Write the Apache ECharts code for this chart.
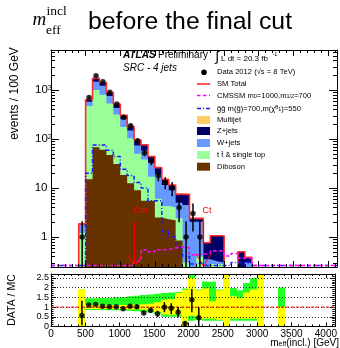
<!DOCTYPE html>
<html>
<head>
<meta charset="utf-8">
<script src="https://cdn.jsdelivr.net/npm/echarts@6.0.0/dist/echarts.min.js"></script>
<style>
html,body{margin:0;padding:0;background:#ffffff;}
#chart{width:340px;height:348px;}
</style>
</head>
<body>
<div id="chart"></div>
<script>
// ---------------- data ----------------
const BIN_WIDTH = 100; // GeV
const binLo = [400,500,600,700,800,900,1000,1100,1200,1300,1400,1500,1600,1700,1800,1900,2000,2100,2200,2300,2400,2500,2600,2700,2800,2900,3000,3100,3200,3300];

// background components (events / 100 GeV), stack order bottom -> top
const dibosonVals  = [0,15,68,60,47,31,18.5,12.5,9,5.5,5.5,2.5,2.3,2.2,0.85,0,0,0,0,0,0,0,0,0,0,0,0,0,0,0];
const ttbarVals    = [1.2,455,932,740,483,284,156.5,91.5,41,32.5,11.5,3.5,2,1.8,1.55,0.3,0.2,0.4,0.1,0.28,0.28,0,0,0,0,0,0,0,0,0];
const wjetsVals    = [0.6,105,480,420,227,115,77,45,24,20,16,13,7.2,5,2.6,4.2,1.85,1.65,0.25,0.04,0.02,0,0,0.1,0.3,0,0,0,0,0];
const zjetsVals    = [0.05,65,255,203,134,85,52,31,21,18,11,7,3.5,2.5,2.5,2.9,0.35,0.35,0.41,0.74,0.76,0.1,0.1,0.4,0.085,0.1,0.05,0,0,0.1];
const multijetVals = [0,0,0,0,0,0,0,0,0,0,0,0,0,0,0,0,0,0,0,0,0,0,0,0,0,0,0,0,0,0];

// signal points
const cmssmVals = [0,0,0,0,0,0,0,0.26,0.32,0.55,0.5,0.55,0.55,0.6,0.62,0.6,0.43,0.45,0.46,0.52,0.52,0.41,0.46,0.37,0.37,0,0,0,0,0];
const ggVals    = [0,20,75,75,59,44,24,18,13,10,5.5,5.5,1.3,1.0,0.6,0.4,0.28,0.3,0,0,0,0,0.3,0.3,0.3,0,0,0,0,0];

// data 2012 (first 18 bins)
const dataVals    = [1,700,1960,1480,900,520,277,187,92,52,35,18,13,10,4,1,3,1];
const dataErrUp   = [1.1,26,44,38,30,23,17,14,10,7.2,6,4.3,3.6,3.2,2,1.1,1.8,1.1];
const dataErrDown = [1,26,44,38,30,23,17,14,10,7.2,6,4.3,3.6,3.2,2,1,1.7,1];

// DATA / MC
const ratioVals     = [0.56,1.11,1.13,1.04,1.01,1.01,0.91,1.04,1.01,0.70,0.84,0.65,0.99,0.94,0.73,0.15,1.37,0.45];
const ratioErrUp    = [0.77,0.04,0.03,0.03,0.04,0.05,0.06,0.08,0.11,0.1,0.14,0.16,0.26,0.26,0.27,0.12,0.56,0.54];
const ratioErrDown  = [0.5,0.04,0.03,0.03,0.04,0.05,0.06,0.08,0.11,0.1,0.14,0.16,0.26,0.3,0.25,0.12,0.64,0.45];

// MC uncertainty bands in the ratio panel (null = no band)
const greenLo  = [0,0.85,0.85,0.85,0.84,0.83,0.82,0.80,0.78,0.75,0.72,0.65,0.50,0.50,0.50,0,0.30,0.35,0.30,0.30,0.30,0,0.30,0.30,0.30,0.30,0,null,null,0];
const greenHi  = [1.9,1.45,1.45,1.46,1.47,1.50,1.52,1.55,1.58,1.62,1.65,1.68,1.72,1.75,1.77,1.95,2.75,1.90,2.32,2.30,1.90,2.7,1.98,1.87,2.24,2.50,2.7,null,null,2.0];
const yellowLo = [0,0.9,0.9,0.9,0.9,0.9,0.89,0.88,0.87,0.86,0.84,0.75,0.62,0.60,0.60,0,0.55,0.40,0.40,0.40,0.35,0,0.40,0.40,0.40,0.40,0,null,null,0];
const yellowHi = [1.9,1.1,1.1,1.1,1.1,1.1,1.11,1.12,1.13,1.15,1.17,1.25,1.38,1.40,1.72,1.89,2.50,1.87,1.95,1.30,1.87,2.7,1.55,1.45,1.75,1.90,2.7,null,null,1.0];

// cut arrows
const cutValues = [1200, 2200];
const cutLabels = ['Cm', 'Ct'];

// tick labels
const mainYTickValues = [1, 10, 100, 1000];
const mainYTickLabels = ['{p|1}', '{p|10}', '{n|10}{s|2}', '{n|10}{s|3}'];
const logMinorTicks = [0.3,0.4,0.5,0.6,0.7,0.8,0.9,2,3,4,5,6,7,8,9,20,30,40,50,60,70,80,90,200,300,400,500,600,700,800,900,2000,3000,4000,5000,6000];

// ---------------- layout / style ----------------
const X_MIN = 0, X_MAX = 4130;
const Y_MIN = 0.244, Y_MAX = 6550;
const R_MAX = 2.7;
const GRID_LEFT = 51, GRID_RIGHT = 3;
const MAIN_TOP = 50, MAIN_H = 217;
const RATIO_TOP = 274, RATIO_H = 52.5;
const FONT = '"Liberation Sans", Arial, Helvetica, sans-serif';
const SERIF = '"Liberation Serif", "Times New Roman", serif';
const COL = {multijet:'#ffcc66', zjets:'#000066', wjets:'#6699ff', ttbar:'#99ff99', diboson:'#663300',
  sm:'#ff2a2a', cmssm:'#ff00ff', gg:'#1a1aff', green:'#22ff22', yellow:'#ffff00'};
const FILL_FLOOR = Y_MIN * 0.5;
const RED_FLOOR = Y_MIN * 0.9;
const SIG_FLOOR = 0.262;
const CUT_ARROW_TOP = 2.05, CUT_LABEL_VAL = 3.4;

function addArr(a, b) { return a.map((v, i) => v + b[i]); }
const cumD = dibosonVals.slice();
const cumT = addArr(cumD, ttbarVals);
const cumW = addArr(cumT, wjetsVals);
const cumZ = addArr(cumW, zjetsVals);
const smTotal = addArr(cumZ, multijetVals);

function stepData(vals, floor, fullRange) {
  const pts = [];
  if (fullRange) pts.push([X_MIN, floor]);
  pts.push([binLo[0], floor]);
  for (let i = 0; i < vals.length; i++) pts.push([binLo[i], Math.max(vals[i], floor)]);
  const hi = binLo[binLo.length - 1] + BIN_WIDTH;
  pts.push([hi, floor]);
  if (fullRange) pts.push([X_MAX, floor]);
  return pts;
}

const series = [];
// stacked fills (drawn largest first)
[
  {comp: multijetVals, cum: smTotal, color: COL.multijet},
  {comp: zjetsVals, cum: cumZ, color: COL.zjets},
  {comp: wjetsVals, cum: cumW, color: COL.wjets},
  {comp: ttbarVals, cum: cumT, color: COL.ttbar},
  {comp: dibosonVals, cum: cumD, color: COL.diboson}
].forEach(l => {
  if (!l.comp.some(v => v > 0)) return;
  series.push({type:'line', xAxisIndex:0, yAxisIndex:0, step:'end', symbol:'none', silent:true,
    data: stepData(l.cum, FILL_FLOOR, false), lineStyle:{width:0, color:l.color},
    areaStyle:{color:l.color, opacity:1, origin:'start'}, z:2, clip:true});
});
// SM total outline
series.push({type:'line', xAxisIndex:0, yAxisIndex:0, step:'end', symbol:'none', silent:true,
  data: stepData(smTotal, RED_FLOOR, false), lineStyle:{width:1.6, color:COL.sm}, z:2, clip:true});
// signals
series.push({type:'line', xAxisIndex:0, yAxisIndex:0, step:'end', symbol:'none', silent:true,
  data: stepData(ggVals, SIG_FLOOR, true), lineStyle:{width:1.5, color:COL.gg, type:[4,2,1,2]}, z:2, clip:true});
series.push({type:'line', xAxisIndex:0, yAxisIndex:0, step:'end', symbol:'none', silent:true,
  data: stepData(cmssmVals, SIG_FLOOR, true), lineStyle:{width:1.6, color:COL.cmssm, type:[3.5,2.5]}, z:2, clip:true});

// cut arrows
series.push({type:'custom', xAxisIndex:0, yAxisIndex:0, silent:true, z:3, clip:false,
  data: cutValues.map((v, i) => [v, CUT_ARROW_TOP, i]), encode:{x:0, y:1},
  renderItem: function (params, api) {
    const x = api.value(0), idx = api.value(2);
    const top = api.coord([x, CUT_ARROW_TOP]);
    const lab = api.coord([x, CUT_LABEL_VAL]);
    const cs = params.coordSys;
    const yb = cs.y + cs.height - 0.5;
    const xx = Math.round(top[0]) + 0.5;
    const st = {stroke:'#ff0000', lineWidth:1};
    return {type:'group', children:[
      {type:'line', shape:{x1:xx, y1:top[1], x2:xx, y2:yb}, style:st},
      {type:'line', shape:{x1:xx-7.5, y1:yb-13, x2:xx, y2:yb}, style:st},
      {type:'line', shape:{x1:xx, y1:yb, x2:xx+7.5, y2:yb-13}, style:st},
      {type:'text', x: xx-1, y: lab[1], style:{text: cutLabels[idx], fill:'#ff0000', fontSize:9, fontFamily:FONT, verticalAlign:'middle', align:'left'}}
    ]};
  }});

// data error bars and points
const dataCenters = dataVals.map((v, i) => binLo[i] + BIN_WIDTH / 2);
series.push({type:'custom', xAxisIndex:0, yAxisIndex:0, silent:true, z:4, clip:true,
  data: dataVals.map((v, i) => [dataCenters[i], Math.max(v - dataErrDown[i], FILL_FLOOR), v + dataErrUp[i]]),
  encode:{x:0, y:[1,2]},
  renderItem: function (params, api) {
    const p1 = api.coord([api.value(0), api.value(2)]);
    const p2 = api.coord([api.value(0), api.value(1)]);
    return {type:'line', shape:{x1:p1[0], y1:p1[1], x2:p2[0], y2:p2[1]}, style:{stroke:'#000', lineWidth:1.5}};
  }});
series.push({type:'scatter', xAxisIndex:0, yAxisIndex:0, silent:true, z:5, symbol:'circle', symbolSize:5.5,
  itemStyle:{color:'#000'}, data: dataVals.map((v, i) => [dataCenters[i], v])});

// log minor ticks (left and right)
series.push({type:'custom', xAxisIndex:0, yAxisIndex:0, silent:true, z:6, clip:false,
  data: logMinorTicks.map(v => [X_MIN, v]), encode:{x:0, y:1},
  renderItem: function (params, api) {
    const p = api.coord([X_MIN, api.value(1)]);
    const cs = params.coordSys;
    const y = Math.round(p[1]) + 0.5;
    return {type:'group', children:[
      {type:'line', shape:{x1:cs.x, y1:y, x2:cs.x+4, y2:y}, style:{stroke:'#000', lineWidth:1}},
      {type:'line', shape:{x1:cs.x+cs.width, y1:y, x2:cs.x+cs.width-4, y2:y}, style:{stroke:'#000', lineWidth:1}}
    ]};
  }});

// ratio bands
function bandSeries(lo, hi, color, z) {
  const d = [];
  for (let i = 0; i < binLo.length; i++) {
    if (lo[i] == null || hi[i] == null) continue;
    d.push([binLo[i], binLo[i] + BIN_WIDTH, lo[i], hi[i]]);
  }
  return {type:'custom', xAxisIndex:2, yAxisIndex:2, silent:true, z:z, clip:true, data:d,
    encode:{x:[0,1], y:[2,3]},
    renderItem: function (params, api) {
      const p1 = api.coord([api.value(0), api.value(2)]);
      const p2 = api.coord([api.value(1), api.value(3)]);
      const cs = params.coordSys;
      const x1 = Math.round(p1[0]), x2 = Math.round(p2[0]);
      const yt = Math.max(p2[1], cs.y), yb = Math.min(p1[1], cs.y + cs.height);
      return {type:'rect', shape:{x:x1, y:yt, width:x2 - x1, height:yb - yt}, style:{fill:color}};
    }};
}
series.push(bandSeries(greenLo, greenHi, COL.green, 2));
series.push(bandSeries(yellowLo, yellowHi, COL.yellow, 2));
series.push({type:'line', xAxisIndex:2, yAxisIndex:2, silent:true, symbol:'none', z:4,
  data:[[X_MIN, 1], [X_MAX, 1]], lineStyle:{color:'#ff0000', width:1, type:[3,2]}});
series.push({type:'custom', xAxisIndex:2, yAxisIndex:2, silent:true, z:5, clip:true,
  data: ratioVals.map((v, i) => [dataCenters[i], Math.max(v - ratioErrDown[i], 0), v + ratioErrUp[i]]),
  encode:{x:0, y:[1,2]},
  renderItem: function (params, api) {
    const p1 = api.coord([api.value(0), api.value(2)]);
    const p2 = api.coord([api.value(0), api.value(1)]);
    return {type:'line', shape:{x1:p1[0], y1:p1[1], x2:p2[0], y2:p2[1]}, style:{stroke:'#000', lineWidth:1.5}};
  }});
series.push({type:'scatter', xAxisIndex:2, yAxisIndex:2, silent:true, z:6, symbol:'circle', symbolSize:5.5,
  itemStyle:{color:'#000'}, data: ratioVals.map((v, i) => [dataCenters[i], v])});

// ---------------- axes ----------------
function xAx(grid, pos, showLabels, tickLen, minorLen) {
  return {type:'value', gridIndex:grid, position:pos, min:X_MIN, max:X_MAX, interval:500, z:3,
    axisLine:{show:true, onZero:false, lineStyle:{color:'#000', width:1}},
    axisTick:{show:true, inside:true, length:tickLen, lineStyle:{color:'#000', width:1}},
    minorTick:{show:true, splitNumber:5, length:minorLen, lineStyle:{color:'#000', width:1}},
    splitLine:{show:false},
    axisLabel:{show:showLabels, fontSize:10, color:'#000', fontFamily:FONT, margin:3, showMaxLabel:false,
      formatter: function (v) { return String(v); }}};
}
function yLog(pos, showLabels) {
  return {type:'log', logBase:10, gridIndex:0, position:pos, min:Y_MIN, max:Y_MAX, z:3,
    axisLine:{show:true, onZero:false, lineStyle:{color:'#000', width:1}},
    axisTick:{show:true, inside:true, length:8, lineStyle:{color:'#000', width:1}},
    minorTick:{show:false}, splitLine:{show:false},
    axisLabel:{show:showLabels, color:'#000', margin:-1, fontFamily:FONT, fontSize:11.5,
      formatter: function (v) {
        for (let i = 0; i < mainYTickValues.length; i++) {
          if (Math.abs(v - mainYTickValues[i]) < 1e-6 * mainYTickValues[i]) return mainYTickLabels[i];
        }
        return '';
      },
      rich:{n:{fontSize:11.5, fontFamily:FONT, color:'#000'},
            p:{fontSize:11.5, fontFamily:FONT, color:'#000', padding:[0,4.5,0,0]},
            s:{fontSize:7.5, fontFamily:FONT, color:'#000', verticalAlign:'top'}}}};
}
function yRatio(pos, showLabels) {
  return {type:'value', gridIndex:1, position:pos, min:0, max:R_MAX, interval:0.5, z:3,
    axisLine:{show:true, onZero:false, lineStyle:{color:'#000', width:1}},
    axisTick:{show:true, inside:true, length:5, lineStyle:{color:'#000', width:1}},
    minorTick:{show:true, splitNumber:5, length:2.5, lineStyle:{color:'#000', width:1}},
    splitLine:{show:showLabels, lineStyle:{color:'#000', width:0.8, type:[1,2]}},
    axisLabel:{show:showLabels, fontSize:9, color:'#000', fontFamily:FONT, margin:2, showMaxLabel:false,
      formatter: function (v) { return String(v); }}};
}

// ---------------- legend / text ----------------
const LX = 197, LW = 13, TX = 217, LFS = 7.6;
const graphic = [];
function txt(x, y, text, extra) {
  graphic.push({type:'text', x:x, y:y, silent:true, z:10,
    style:Object.assign({text:text, fill:'#000', fontSize:LFS, fontFamily:FONT, verticalAlign:'middle', align:'left'}, extra || {})});
}
// title
txt(32.5, 19.5, 'm', {fontSize:19, fontFamily:SERIF, fontStyle:'italic'});
txt(46.5, 11, 'incl', {fontSize:13.5, fontFamily:SERIF});
txt(46, 30.5, 'eff', {fontSize:13.5, fontFamily:SERIF});
txt(88, 22.5, 'before the final cut', {fontSize:24.8});
// axis titles
graphic.push({type:'text', x:15, y:93.5, rotation:Math.PI/2, silent:true, z:10,
  style:{text:'events / 100 GeV', fill:'#000', fontSize:12, fontFamily:FONT, align:'center', verticalAlign:'middle'}});
graphic.push({type:'text', x:12.5, y:300, rotation:Math.PI/2, silent:true, z:10,
  style:{text:'DATA / MC', fill:'#000', fontSize:10.5, fontFamily:FONT, align:'center', verticalAlign:'middle'}});
graphic.push({type:'text', x:339, y:343, silent:true, z:10,
  style:{text:'{t|m}{b|eff}{t|(incl.) [GeV]}', align:'right', verticalAlign:'middle', fill:'#000',
    rich:{t:{fontSize:10, fontFamily:FONT, fill:'#000'}, b:{fontSize:7, fontFamily:FONT, fill:'#000', verticalAlign:'bottom'}}}});
// ATLAS label
txt(123, 55, 'ATLAS', {fontSize:10, fontWeight:'bold', fontStyle:'italic'});
txt(158, 55, 'Preliminary', {fontSize:10});
txt(123, 68, 'SRC - 4 jets', {fontSize:10, fontStyle:'italic'});
txt(215.5, 57.5, '\u222B', {fontSize:14});
txt(221, 58.3, 'L dt = 20.3 fb', {fontSize:8});
txt(272.5, 54, '-1', {fontSize:5.5});
// legend rows
graphic.push({type:'circle', shape:{cx:204, cy:72.3, r:2.8}, style:{fill:'#000'}, silent:true, z:10});
txt(TX, 72.3, 'Data 2012 (\u221As = 8 TeV)');
graphic.push({type:'line', shape:{x1:LX, y1:84, x2:LX+LW, y2:84}, style:{stroke:COL.sm, lineWidth:1.6}, silent:true, z:10});
txt(TX, 84, 'SM Total');
graphic.push({type:'line', shape:{x1:LX, y1:95.5, x2:LX+LW, y2:95.5}, style:{stroke:COL.cmssm, lineWidth:1.6, lineDash:[3.5,2.5]}, silent:true, z:10});
graphic.push({type:'text', x:TX, y:95.5, silent:true, z:10, style:{text:'{t|CMSSM m}{s|0}{t|=1000,m}{s|1/2}{t|=700}', verticalAlign:'middle', fill:'#000',
  rich:{t:{fontSize:LFS, fontFamily:FONT, fill:'#000'}, s:{fontSize:5.5, fontFamily:FONT, fill:'#000', verticalAlign:'bottom'}}}});
graphic.push({type:'line', shape:{x1:LX, y1:108.5, x2:LX+LW, y2:108.5}, style:{stroke:COL.gg, lineWidth:1.5, lineDash:[4,2,1,2]}, silent:true, z:10});
graphic.push({type:'text', x:TX, y:108.5, silent:true, z:10, style:{text:'{t|g\u0303g\u0303 m(g\u0303)=700,m(\u03C7\u0303}{u|0}{s|1}{t|)=550}', verticalAlign:'middle', fill:'#000',
  rich:{t:{fontSize:LFS, fontFamily:FONT, fill:'#000'}, s:{fontSize:5.5, fontFamily:FONT, fill:'#000', verticalAlign:'bottom'}, u:{fontSize:5.5, fontFamily:FONT, fill:'#000', verticalAlign:'top'}}}});
const boxRows = [
  {y:120, color:COL.multijet, label:'Multijet'},
  {y:131, color:COL.zjets, label:'Z+jets'},
  {y:143, color:COL.wjets, label:'W+jets'},
  {y:155, color:COL.ttbar, label:'t t\u0304 & single top'},
  {y:166.7, color:COL.diboson, label:'Diboson'}
];
boxRows.forEach(r => {
  graphic.push({type:'rect', shape:{x:LX, y:r.y - 4, width:LW, height:8}, style:{fill:r.color}, silent:true, z:10});
  txt(TX, r.y, r.label);
});

const chart = echarts.init(document.getElementById('chart'), null, {renderer:'canvas'});
chart.setOption({
  animation:false,
  backgroundColor:'#ffffff',
  textStyle:{fontFamily:FONT},
  grid:[
    {left:GRID_LEFT, right:GRID_RIGHT, top:MAIN_TOP, height:MAIN_H, containLabel:false},
    {left:GRID_LEFT, right:GRID_RIGHT, top:RATIO_TOP, height:RATIO_H, containLabel:false}
  ],
  xAxis:[xAx(0,'bottom',false,6,3), xAx(0,'top',false,6,3), xAx(1,'bottom',true,4,2), xAx(1,'top',false,4,2)],
  yAxis:[yLog('left',true), yLog('right',false), yRatio('left',true), yRatio('right',false)],
  series: series,
  graphic: graphic
});
</script>
</body>
</html>
